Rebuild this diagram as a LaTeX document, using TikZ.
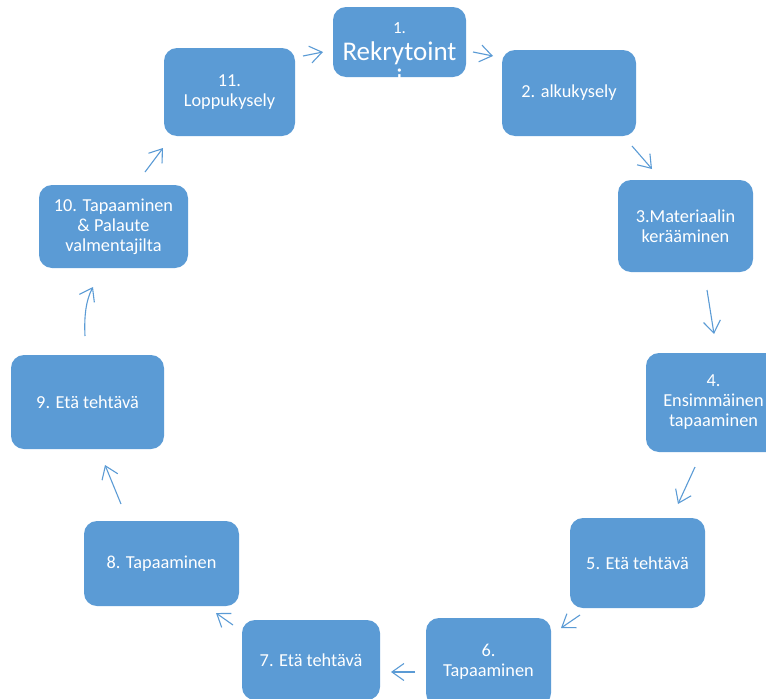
\documentclass[tikz,border=0pt]{standalone}
\usepackage{fontspec}
\setmainfont{Carlito}
\usetikzlibrary{arrows.meta}
\definecolor{boxblue}{HTML}{5B9BD5}
\begin{document}
\begin{tikzpicture}[x=1pt,y=-1pt,
  box/.style={draw=none, fill=boxblue, rounded corners=13pt, inner sep=0pt, text=white, align=center, font=\fontsize{18.3}{20}\selectfont},
  boxtxt/.style={text=white, inner sep=0pt, anchor=base},
  flow/.style={draw=boxblue, line width=1.1pt, -{Straight Barb[length=12pt,width=17pt]}},
]
\useasboundingbox (0,0) rectangle (766,699);
% boxes
\node[box, minimum width=133pt, minimum height=70pt] (n1) at (399.5,42) {};
\node[boxtxt, font=\fontsize{17}{18}\selectfont] (n1a) at (399.5,33) {1.};
\node[boxtxt, font=\fontsize{27}{28}\selectfont] (n1b) at (399.5,60) {Rekrytoint};
\node[boxtxt, font=\fontsize{27}{28}\selectfont] (n1c) at (399.5,87) {i};
\node[box, minimum width=134pt, minimum height=86pt] (n2) at (569,93) {2. alkukysely};
\node[box, minimum width=135pt, minimum height=92pt] (n3) at (685.5,226) {3.Materiaalin\\kerääminen};
\node[box, minimum width=135pt, minimum height=99pt] (n4) at (713.5,402.5) {4.\\Ensimmäinen\\tapaaminen};
\node[box, minimum width=135pt, minimum height=90pt] (n5) at (637.5,563) {5. Etä tehtävä};
\node[box, minimum width=125pt, minimum height=88pt] (n6) at (488.5,662) {6.\\Tapaaminen};
\node[box, minimum width=138pt, minimum height=80pt] (n7) at (311,660) {7. Etä tehtävä};
\node[box, minimum width=155pt, minimum height=85pt] (n8) at (161.5,563.5) {8. Tapaaminen};
\node[box, minimum width=153pt, minimum height=94pt] (n9) at (87.5,402) {9. Etä tehtävä};
\node[box, minimum width=149pt, minimum height=83pt] (n10) at (113.5,226.5) {10. Tapaaminen\\\& Palaute\\valmentajilta};
\node[box, minimum width=131pt, minimum height=88pt] (n11) at (229.5,92) {11.\\Loppukysely};
% arrow end points
\coordinate (a1s) at (303,56);  \coordinate (a1e) at (323,52);
\coordinate (a2s) at (473,52);  \coordinate (a2e) at (493,56);
\coordinate (a3s) at (632,146); \coordinate (a3e) at (652,169);
\coordinate (a4s) at (707,290); \coordinate (a4e) at (714,334);
\coordinate (a5s) at (695,467); \coordinate (a5e) at (678,504);
\coordinate (a6s) at (580,615); \coordinate (a6e) at (561,628);
\coordinate (a7s) at (415,672); \coordinate (a7e) at (391,672);
\coordinate (a8s) at (233,625); \coordinate (a8e) at (216,613);
\coordinate (a9s) at (121,504); \coordinate (a9e) at (105,465);
\coordinate (a10s) at (85,336); \coordinate (a10e) at (93,287);
\coordinate (a11s) at (145,172); \coordinate (a11e) at (163,148);
% arrows
\draw[flow] (a1s) -- (a1e);
\draw[flow] (a2s) -- (a2e);
\draw[flow] (a3s) -- (a3e);
\draw[flow] (a4s) -- (a4e);
\draw[flow] (a5s) -- (a5e);
\draw[flow] (a6s) -- (a6e);
\draw[flow] (a7s) -- (a7e);
\draw[flow] (a8s) -- (a8e);
\draw[flow] (a9s) -- (a9e);
\draw[flow] (a10s) .. controls (84,316) and (86,300) .. (a10e);
\draw[flow] (a11s) -- (a11e);
\end{tikzpicture}
\end{document}
